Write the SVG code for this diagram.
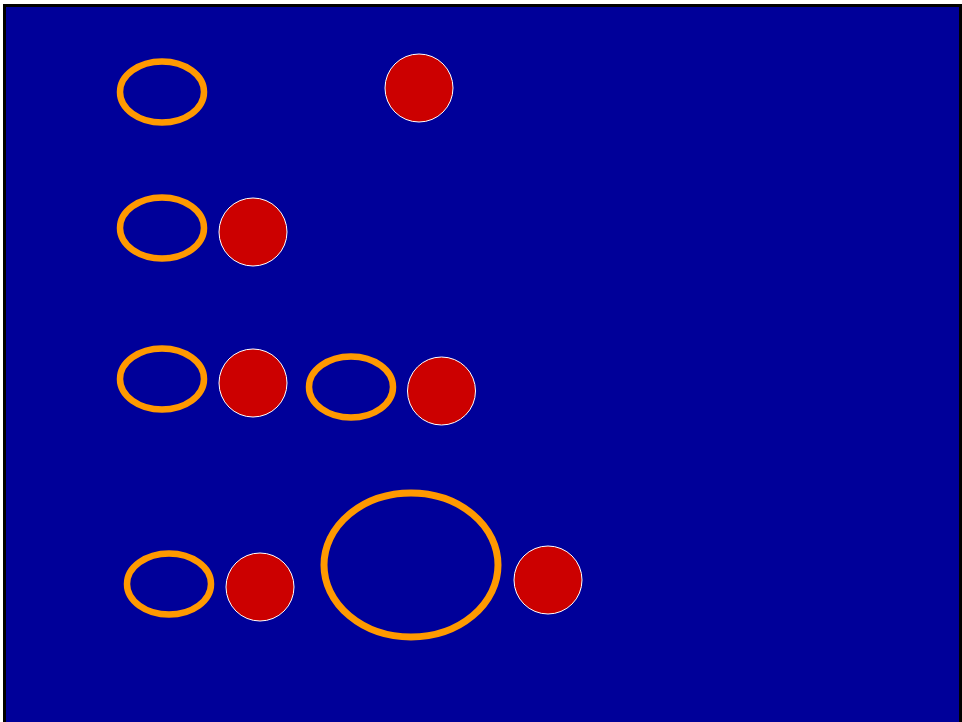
<svg xmlns="http://www.w3.org/2000/svg" width="962" height="722" viewBox="0 0 962 722">
<style>
.ring{fill:none;stroke:#ff9900;stroke-width:6.5}
.dot{fill:#cc0000;stroke:#ffffff;stroke-width:1}
</style>
<rect x="4.5" y="5.5" width="956" height="720" fill="#000099" stroke="#000000" stroke-width="3"/>
<g id="ring1"><ellipse class="ring" cx="162" cy="92" rx="42" ry="30.5"/></g>
<g id="dot1"><circle class="dot" cx="419" cy="88" r="34"/></g>
<g id="ring2"><ellipse class="ring" cx="162" cy="228" rx="42" ry="30.5"/></g>
<g id="dot2"><circle class="dot" cx="253" cy="232" r="34"/></g>
<g id="ring3"><ellipse class="ring" cx="162" cy="379" rx="42" ry="30.5"/></g>
<g id="dot3"><circle class="dot" cx="253" cy="383" r="34"/></g>
<g id="ring4"><ellipse class="ring" cx="351" cy="387" rx="42" ry="30.5"/></g>
<g id="dot4"><circle class="dot" cx="441.5" cy="391" r="34"/></g>
<g id="ring5"><ellipse class="ring" cx="169" cy="584" rx="42" ry="30.5"/></g>
<g id="dot5"><circle class="dot" cx="260" cy="587" r="34"/></g>
<g id="ring6"><ellipse class="ring" cx="411" cy="565" rx="87" ry="72" style="stroke-width:7"/></g>
<g id="dot6"><circle class="dot" cx="548" cy="580" r="34"/></g>
<g id="connectors"/>
</svg>
